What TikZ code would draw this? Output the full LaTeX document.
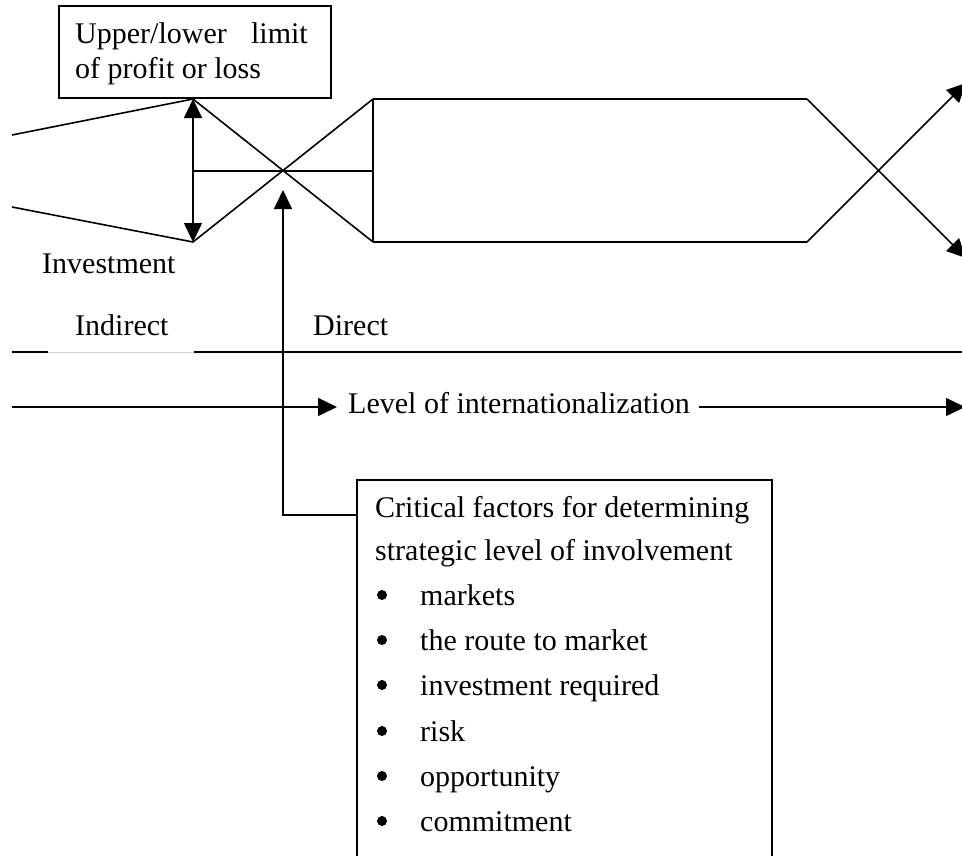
\documentclass[tikz,border=0pt]{standalone}
\usepackage{fontspec}
\setmainfont{Liberation Serif}
\usetikzlibrary{arrows.meta}
\begin{document}
\begin{tikzpicture}[x=1pt,y=-1pt,
  line/.style={line width=1.6pt},
  tip/.style={-{Triangle[length=19pt,width=18pt]}},
  twotips/.style={{Triangle[length=19pt,width=18pt]}-{Triangle[length=19pt,width=18pt]}},
  lbl/.style={anchor=base west,inner sep=0pt,font=\fontsize{30}{36}\selectfont},
  dot/.style={circle,fill,inner sep=0pt,minimum size=10pt},
  frame/.style={draw,line width=1.5pt,anchor=north west,inner sep=0pt},
]
\useasboundingbox (0,0) rectangle (962,855);

% ---- label box: upper/lower limit
\node[frame,minimum width=272pt,minimum height=92pt] (limitbox) at (58,5) {};
\node[lbl] (limA) at (75,43) {Upper/lower};
\node[lbl,anchor=base east] (limB) at (308,43) {limit};
\node[lbl] (limC) at (75,78) {of profit or loss};

% ---- corner points of the funnel and the channel
\coordinate (inA) at (12,135);
\coordinate (inB) at (12,207);
\coordinate (top) at (193,99);
\coordinate (bot) at (193,242);
\coordinate (midL) at (193,171);
\coordinate (midR) at (373,171);
\coordinate (chTL) at (373,99);
\coordinate (chBL) at (373,242);
\coordinate (chTR) at (807,99);
\coordinate (chBR) at (807,242);
\coordinate (outDown) at (966,258);
\coordinate (outUp) at (966,83);

% converging lines on the left
\draw[line] (inA) -- (top) -- (chBL);
\draw[line] (inB) -- (bot) -- (chTL);
% profit/loss range
\draw[line,twotips] (top) -- (bot);
\draw[line] (midL) -- (midR);
% channel
\draw[line] (chTL) -- (chBL);
\draw[line] (chTL) -- (chTR);
\draw[line] (chBL) -- (chBR);
\draw[line,tip] (chTR) -- (outDown);
\draw[line,tip] (chBR) -- (outUp);

% ---- labels under the funnel
\node[lbl] (invest) at (42,273) {Investment};
\node[lbl] (indirect) at (75,335) {Indirect};
\node[lbl] (direct) at (313,335) {Direct};

% ---- divider line
\coordinate (dv0) at (12,352);
\coordinate (dv1) at (48,352);
\coordinate (dv2) at (194,352);
\coordinate (dv3) at (962,352);
\draw[line] (dv0) -- (dv1);
\draw[line width=1pt,black!18] (dv1) -- (dv2);
\draw[line] (dv2) -- (dv3);

% ---- level axis
\coordinate (ax0) at (12,407);
\coordinate (axIn) at (337,407);
\node[lbl] (level) at (348,413) {Level of internationalization};
\coordinate (ax1) at (699,407);
\coordinate (ax2) at (965,407);
\draw[line,tip] (ax0) -- (axIn);
\draw[line,tip] (ax1) -- (ax2);

% ---- critical factors box
\node[frame,minimum width=415pt,minimum height=400pt] (factors) at (356,479) {};
\coordinate (fjoin) at (356,515);
\coordinate (fbend) at (283,515);
\coordinate (cross) at (283,190);
\draw[line,tip] (fjoin) -- (fbend) -- (cross);

\node[lbl] (fA) at (375,517) {Critical factors for determining};
\node[lbl] (fB) at (375,560) {strategic level of involvement};
\foreach \y/\t [count=\i] in {605/markets,650/the route to market,695/investment required,741/risk,786/opportunity,831/commitment}{
  \node[dot] (b\i) at (382,\y-10) {};
  \node[lbl] (item\i) at (420,\y) {\t};
}
\end{tikzpicture}
\end{document}
